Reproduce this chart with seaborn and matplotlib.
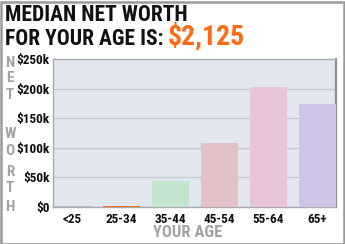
import matplotlib
matplotlib.use("Agg")
import matplotlib.pyplot as plt
from matplotlib import font_manager
import seaborn as sns
import pandas as pd
from matplotlib.patches import Rectangle

ages = ['<25', '25-34', '35-44', '45-54', '55-64', '65+']
net_worth_k = [1.0, 2.125, 44, 108, 203, 174]
bar_colors = ['#b3b8c6', '#ff6a13', '#c4e5cd', '#e2c2c8', '#e8c3da', '#cfc3e7']
y_ticks = [0, 50, 100, 150, 200, 250]
y_tick_labels = ['$0', '$50k', '$100k', '$150k', '$200k', '$250k']
title_line1 = 'MEDIAN NET WORTH'
title_line2 = 'FOR YOUR AGE IS:'
highlight = '$2,125'
ylabel_top = 'NET'
ylabel_bottom = 'WORTH'
xlabel = 'YOUR AGE'

sns.set_theme(style='white')
available = {f.name for f in font_manager.fontManager.ttflist}
candidates = ['Roboto Condensed', 'Asap Condensed', 'Archivo Narrow',
              'Saira SemiCondensed', 'Liberation Sans Narrow']
FONT = [c for c in candidates if c in available][:1] + ['DejaVu Sans']
plt.rcParams['font.family'] = FONT
plt.rcParams['font.weight'] = 'bold'

W, H = 345, 244
fig = plt.figure(figsize=(W / 100, H / 100), dpi=100)
fig.patch.set_facecolor('white')

def fx(x):
    return x / W

def fy(y):
    return 1 - y / H

ax = fig.add_axes([fx(53), fy(207), fx(336) - fx(53), fy(59) - fy(207)])
ax.set_facecolor('#e2e7ef')

df = pd.DataFrame({'age': ages, 'value': net_worth_k})
sns.barplot(data=df, x='age', y='value', hue='age', palette=bar_colors,
            legend=False, width=0.755, saturation=1, ax=ax, zorder=3)
for p in ax.patches:
    p.set_edgecolor('none')

ax.set_xlim(-0.4, 5.378)
ax.set_ylim(0, 250)
ax.set_yticks(y_ticks)
ax.set_yticklabels(y_tick_labels)
ax.yaxis.grid(True, color='#c5c7cc', linewidth=1, zorder=1)
ax.set_axisbelow(True)
ax.tick_params(axis='both', length=0, labelsize=9.5, colors='#111111')
ax.tick_params(axis='y', pad=2.5)
ax.tick_params(axis='x', pad=4.5)
for lab in ax.get_xticklabels() + ax.get_yticklabels():
    lab.set_fontweight('bold')
ax.set_xlabel('')
ax.set_ylabel('')

for side in ['left', 'top', 'bottom']:
    ax.spines[side].set_color('#a9abb0')
    ax.spines[side].set_linewidth(1)
ax.spines['right'].set_color('#8c8c8c')
ax.spines['right'].set_linewidth(1.6)

# Titles
fig.text(fx(5), fy(21), title_line1, fontsize=15.5, fontweight='bold',
         color='#111111', va='baseline', ha='left', family=FONT)
fig.text(fx(5), fy(45), title_line2, fontsize=15.5, fontweight='bold',
         color='#111111', va='baseline', ha='left', family=FONT)
fig.text(fx(168), fy(45), highlight, fontsize=20, fontweight='bold',
         color='#ff6a13', va='baseline', ha='left', family=FONT)

# Stacked y label letters
letter_y = [63, 78, 95, 134, 151, 172, 188, 207]
letters = list(ylabel_top) + list(ylabel_bottom)
for ch, yy in zip(letters, letter_y):
    fig.text(fx(10), fy(yy), ch, fontsize=11, fontweight='bold', color='#a3a3a3',
             ha='center', va='center', family=FONT)

# x label
fig.text(fx(188), fy(232.5), xlabel, fontsize=12, fontweight='bold', color='#a3a3a3',
         ha='center', va='center', family=FONT)

# outer frame
fig.patches.append(Rectangle((0.5 / W, 0.5 / H), 1 - 2 / W, 1 - 2 / H,
                             transform=fig.transFigure, fill=False,
                             edgecolor='#9b9b9b', linewidth=1.8))

fig.savefig('out.png', dpi=100, facecolor='white')
